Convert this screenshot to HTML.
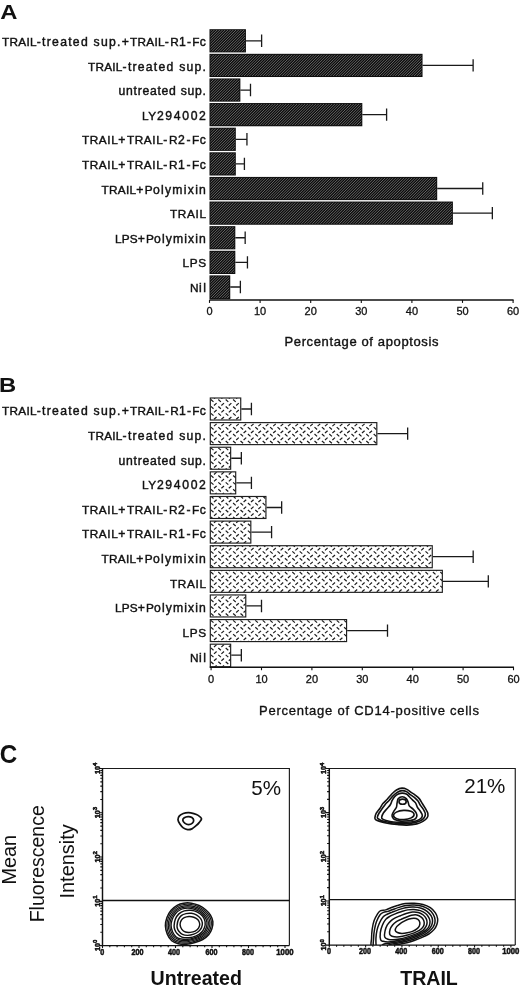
<!DOCTYPE html>
<html lang="en"><head><meta charset="utf-8"><title>Figure</title>
<style>
html,body{margin:0;padding:0;background:#fff}
svg{display:block}
text{font-family:"Liberation Sans", sans-serif;fill:#111}
.pl{font-weight:bold}
.lb{font-size:12.2px;stroke:#111;stroke-width:.42px;letter-spacing:.9px}
.up{letter-spacing:-.1px;font-size:11.8px}
.tl{font-size:11px;stroke:#111;stroke-width:.3px}
.tt{font-size:13px;stroke:#111;stroke-width:.35px}
.eb{fill:none;stroke:#1a1a1a;stroke-width:1.3}
.ax{fill:none;stroke:#111;stroke-width:1.4}
.tk{stroke:#111;stroke-width:1.1}
.yl{font-size:20.8px}
.pc{font-size:20.6px}
.nm{font-size:21px;font-weight:bold}
.ct{font-size:8.2px;font-weight:bold;stroke:#111;stroke-width:.5px}
</style></head><body>
<svg width="520" height="995" viewBox="0 0 520 995">
<defs>
<pattern id="hB" width="37" height="69" patternUnits="userSpaceOnUse" x="211" y="422">
<rect width="37" height="69" fill="#fff"/>
<path d="M-4.4 -2.75l2.6 -2.3M-7.5 -1.75l2.6 2.3M3 -2.75l2.6 -2.3M-0.1 -1.75l2.6 2.3M10.4 -2.75l2.6 -2.3M7.3 -1.75l2.6 2.3M17.8 -2.75l2.6 -2.3M14.7 -1.75l2.6 2.3M25.2 -2.75l2.6 -2.3M22.1 -1.75l2.6 2.3M32.6 -2.75l2.6 -2.3M29.5 -1.75l2.6 2.3M40 -2.75l2.6 -2.3M36.9 -1.75l2.6 2.3M-4.4 4.15l2.6 -2.3M-7.5 5.15l2.6 2.3M3 4.15l2.6 -2.3M-0.1 5.15l2.6 2.3M10.4 4.15l2.6 -2.3M7.3 5.15l2.6 2.3M17.8 4.15l2.6 -2.3M14.7 5.15l2.6 2.3M25.2 4.15l2.6 -2.3M22.1 5.15l2.6 2.3M32.6 4.15l2.6 -2.3M29.5 5.15l2.6 2.3M40 4.15l2.6 -2.3M36.9 5.15l2.6 2.3M-4.4 11.05l2.6 -2.3M-7.5 12.05l2.6 2.3M3 11.05l2.6 -2.3M-0.1 12.05l2.6 2.3M10.4 11.05l2.6 -2.3M7.3 12.05l2.6 2.3M17.8 11.05l2.6 -2.3M14.7 12.05l2.6 2.3M25.2 11.05l2.6 -2.3M22.1 12.05l2.6 2.3M32.6 11.05l2.6 -2.3M29.5 12.05l2.6 2.3M40 11.05l2.6 -2.3M36.9 12.05l2.6 2.3M-4.4 17.95l2.6 -2.3M-7.5 18.95l2.6 2.3M3 17.95l2.6 -2.3M-0.1 18.95l2.6 2.3M10.4 17.95l2.6 -2.3M7.3 18.95l2.6 2.3M17.8 17.95l2.6 -2.3M14.7 18.95l2.6 2.3M25.2 17.95l2.6 -2.3M22.1 18.95l2.6 2.3M32.6 17.95l2.6 -2.3M29.5 18.95l2.6 2.3M40 17.95l2.6 -2.3M36.9 18.95l2.6 2.3M-4.4 24.85l2.6 -2.3M-7.5 25.85l2.6 2.3M3 24.85l2.6 -2.3M-0.1 25.85l2.6 2.3M10.4 24.85l2.6 -2.3M7.3 25.85l2.6 2.3M17.8 24.85l2.6 -2.3M14.7 25.85l2.6 2.3M25.2 24.85l2.6 -2.3M22.1 25.85l2.6 2.3M32.6 24.85l2.6 -2.3M29.5 25.85l2.6 2.3M40 24.85l2.6 -2.3M36.9 25.85l2.6 2.3M-4.4 31.75l2.6 -2.3M-7.5 32.75l2.6 2.3M3 31.75l2.6 -2.3M-0.1 32.75l2.6 2.3M10.4 31.75l2.6 -2.3M7.3 32.75l2.6 2.3M17.8 31.75l2.6 -2.3M14.7 32.75l2.6 2.3M25.2 31.75l2.6 -2.3M22.1 32.75l2.6 2.3M32.6 31.75l2.6 -2.3M29.5 32.75l2.6 2.3M40 31.75l2.6 -2.3M36.9 32.75l2.6 2.3M-4.4 38.65l2.6 -2.3M-7.5 39.65l2.6 2.3M3 38.65l2.6 -2.3M-0.1 39.65l2.6 2.3M10.4 38.65l2.6 -2.3M7.3 39.65l2.6 2.3M17.8 38.65l2.6 -2.3M14.7 39.65l2.6 2.3M25.2 38.65l2.6 -2.3M22.1 39.65l2.6 2.3M32.6 38.65l2.6 -2.3M29.5 39.65l2.6 2.3M40 38.65l2.6 -2.3M36.9 39.65l2.6 2.3M-4.4 45.55l2.6 -2.3M-7.5 46.55l2.6 2.3M3 45.55l2.6 -2.3M-0.1 46.55l2.6 2.3M10.4 45.55l2.6 -2.3M7.3 46.55l2.6 2.3M17.8 45.55l2.6 -2.3M14.7 46.55l2.6 2.3M25.2 45.55l2.6 -2.3M22.1 46.55l2.6 2.3M32.6 45.55l2.6 -2.3M29.5 46.55l2.6 2.3M40 45.55l2.6 -2.3M36.9 46.55l2.6 2.3M-4.4 52.45l2.6 -2.3M-7.5 53.45l2.6 2.3M3 52.45l2.6 -2.3M-0.1 53.45l2.6 2.3M10.4 52.45l2.6 -2.3M7.3 53.45l2.6 2.3M17.8 52.45l2.6 -2.3M14.7 53.45l2.6 2.3M25.2 52.45l2.6 -2.3M22.1 53.45l2.6 2.3M32.6 52.45l2.6 -2.3M29.5 53.45l2.6 2.3M40 52.45l2.6 -2.3M36.9 53.45l2.6 2.3M-4.4 59.35l2.6 -2.3M-7.5 60.35l2.6 2.3M3 59.35l2.6 -2.3M-0.1 60.35l2.6 2.3M10.4 59.35l2.6 -2.3M7.3 60.35l2.6 2.3M17.8 59.35l2.6 -2.3M14.7 60.35l2.6 2.3M25.2 59.35l2.6 -2.3M22.1 60.35l2.6 2.3M32.6 59.35l2.6 -2.3M29.5 60.35l2.6 2.3M40 59.35l2.6 -2.3M36.9 60.35l2.6 2.3M-4.4 66.25l2.6 -2.3M-7.5 67.25l2.6 2.3M3 66.25l2.6 -2.3M-0.1 67.25l2.6 2.3M10.4 66.25l2.6 -2.3M7.3 67.25l2.6 2.3M17.8 66.25l2.6 -2.3M14.7 67.25l2.6 2.3M25.2 66.25l2.6 -2.3M22.1 67.25l2.6 2.3M32.6 66.25l2.6 -2.3M29.5 67.25l2.6 2.3M40 66.25l2.6 -2.3M36.9 67.25l2.6 2.3M-4.4 73.15l2.6 -2.3M-7.5 74.15l2.6 2.3M3 73.15l2.6 -2.3M-0.1 74.15l2.6 2.3M10.4 73.15l2.6 -2.3M7.3 74.15l2.6 2.3M17.8 73.15l2.6 -2.3M14.7 74.15l2.6 2.3M25.2 73.15l2.6 -2.3M22.1 74.15l2.6 2.3M32.6 73.15l2.6 -2.3M29.5 74.15l2.6 2.3M40 73.15l2.6 -2.3M36.9 74.15l2.6 2.3" stroke="#1c1c1c" stroke-width="1.22" fill="none"/>
</pattern>
<clipPath id="clipc2"><rect x="320" y="760" width="200" height="185.1"/></clipPath>
</defs>
<rect width="520" height="995" fill="#fff"/>
<text x="0.3" y="18.5" class="pl" font-size="20.3" textLength="17.2" lengthAdjust="spacingAndGlyphs">A</text>
<path d="M245.93 40.8H261.62M261.62 34.6V47" class="eb"/>
<rect x="209.5" y="29.2" width="36.43" height="23.2" fill="#0c0c0c"/>
<text x="2" y="45.9" class="lb" textLength="204.8" lengthAdjust="spacing"><tspan class="up">TRAIL</tspan>-treated sup.+<tspan class="up">TRAIL</tspan>-<tspan class="up">R</tspan>1-<tspan class="up">F</tspan>c</text>
<path d="M422.53 65.42H473.13M473.13 59.22V71.62" class="eb"/>
<rect x="209.5" y="53.82" width="213.03" height="23.2" fill="#0c0c0c"/>
<text x="88" y="70.52" class="lb" textLength="118.8" lengthAdjust="spacing"><tspan class="up">TRAIL</tspan>-treated sup.</text>
<path d="M240.37 90.04H250.49M250.49 83.84V96.24" class="eb"/>
<rect x="209.5" y="78.44" width="30.87" height="23.2" fill="#0c0c0c"/>
<text x="118.5" y="95.14" class="lb" textLength="88.3" lengthAdjust="spacing">untreated sup.</text>
<path d="M362.31 114.66H386.6M386.6 108.46V120.86" class="eb"/>
<rect x="209.5" y="103.06" width="152.81" height="23.2" fill="#0c0c0c"/>
<text x="142" y="119.76" class="lb" textLength="64.8" lengthAdjust="spacing"><tspan class="up">LY</tspan>294002</text>
<path d="M235.81 139.28H246.94M246.94 133.08V145.48" class="eb"/>
<rect x="209.5" y="127.68" width="26.31" height="23.2" fill="#0c0c0c"/>
<text x="82" y="144.38" class="lb" textLength="124.8" lengthAdjust="spacing"><tspan class="up">TRAIL</tspan>+<tspan class="up">TRAIL</tspan>-<tspan class="up">R</tspan>2-<tspan class="up">F</tspan>c</text>
<path d="M235.81 163.9H244.41M244.41 157.7V170.1" class="eb"/>
<rect x="209.5" y="152.3" width="26.31" height="23.2" fill="#0c0c0c"/>
<text x="82" y="169" class="lb" textLength="124.8" lengthAdjust="spacing"><tspan class="up">TRAIL</tspan>+<tspan class="up">TRAIL</tspan>-<tspan class="up">R</tspan>1-<tspan class="up">F</tspan>c</text>
<path d="M437.2 188.52H482.74M482.74 182.32V194.72" class="eb"/>
<rect x="209.5" y="176.92" width="227.7" height="23.2" fill="#0c0c0c"/>
<text x="101.5" y="193.62" class="lb" textLength="105.3" lengthAdjust="spacing"><tspan class="up">TRAIL</tspan>+<tspan class="up">P</tspan>olymixin</text>
<path d="M452.89 213.14H492.35M492.35 206.94V219.34" class="eb"/>
<rect x="209.5" y="201.54" width="243.39" height="23.2" fill="#0c0c0c"/>
<text x="170" y="218.24" class="lb" textLength="36" lengthAdjust="spacing"><tspan class="up">TRAIL</tspan></text>
<path d="M235.31 237.76H245.17M245.17 231.56V243.96" class="eb"/>
<rect x="209.5" y="226.16" width="25.81" height="23.2" fill="#0c0c0c"/>
<text x="115" y="242.86" class="lb" textLength="91.8" lengthAdjust="spacing"><tspan class="up">LPS</tspan>+<tspan class="up">P</tspan>olymixin</text>
<path d="M235.31 262.38H247.45M247.45 256.18V268.58" class="eb"/>
<rect x="209.5" y="250.78" width="25.81" height="23.2" fill="#0c0c0c"/>
<text x="182.5" y="267.48" class="lb" textLength="23.5" lengthAdjust="spacing"><tspan class="up">LPS</tspan></text>
<path d="M230.25 287H240.37M240.37 280.8V293.2" class="eb"/>
<rect x="209.5" y="275.4" width="20.75" height="23.8" fill="#0c0c0c"/>
<text x="190" y="292.1" class="lb" textLength="16.8" lengthAdjust="spacing"><tspan class="up">N</tspan>il</text>
<path d="M209.5 300.02H513.6" class="ax"/>
<path d="M209.5 300.02V302.92" class="tk"/>
<text x="209.5" y="315.32" class="tl" text-anchor="middle">0</text>
<path d="M260.1 300.02V302.92" class="tk"/>
<text x="260.1" y="315.32" class="tl" text-anchor="middle">10</text>
<path d="M310.7 300.02V302.92" class="tk"/>
<text x="310.7" y="315.32" class="tl" text-anchor="middle">20</text>
<path d="M361.3 300.02V302.92" class="tk"/>
<text x="361.3" y="315.32" class="tl" text-anchor="middle">30</text>
<path d="M411.9 300.02V302.92" class="tk"/>
<text x="411.9" y="315.32" class="tl" text-anchor="middle">40</text>
<path d="M462.5 300.02V302.92" class="tk"/>
<text x="462.5" y="315.32" class="tl" text-anchor="middle">50</text>
<path d="M513.1 300.02V302.92" class="tk"/>
<text x="513.1" y="315.32" class="tl" text-anchor="middle">60</text>
<text x="284.5" y="345.92" class="tt" style="stroke-width:.38px" textLength="154" lengthAdjust="spacing">Percentage of apoptosis</text>
<clipPath id="clipA"><rect x="210.4" y="30.1" width="34.63" height="21.4"/><rect x="210.4" y="54.72" width="211.23" height="21.4"/><rect x="210.4" y="79.34" width="29.07" height="21.4"/><rect x="210.4" y="103.96" width="151.01" height="21.4"/><rect x="210.4" y="128.58" width="24.51" height="21.4"/><rect x="210.4" y="153.2" width="24.51" height="21.4"/><rect x="210.4" y="177.82" width="225.9" height="21.4"/><rect x="210.4" y="202.44" width="241.59" height="21.4"/><rect x="210.4" y="227.06" width="24.01" height="21.4"/><rect x="210.4" y="251.68" width="24.01" height="21.4"/><rect x="210.4" y="276.3" width="18.95" height="22"/></clipPath>
<path d="M-62 301l272 -272M-59.3 301l272 -272M-56.6 301l272 -272M-53.9 301l272 -272M-51.2 301l272 -272M-48.5 301l272 -272M-45.8 301l272 -272M-43.1 301l272 -272M-40.4 301l272 -272M-37.7 301l272 -272M-35 301l272 -272M-32.3 301l272 -272M-29.6 301l272 -272M-26.9 301l272 -272M-24.2 301l272 -272M-21.5 301l272 -272M-18.8 301l272 -272M-16.1 301l272 -272M-13.4 301l272 -272M-10.7 301l272 -272M-8 301l272 -272M-5.3 301l272 -272M-2.6 301l272 -272M0.1 301l272 -272M2.8 301l272 -272M5.5 301l272 -272M8.2 301l272 -272M10.9 301l272 -272M13.6 301l272 -272M16.3 301l272 -272M19 301l272 -272M21.7 301l272 -272M24.4 301l272 -272M27.1 301l272 -272M29.8 301l272 -272M32.5 301l272 -272M35.2 301l272 -272M37.9 301l272 -272M40.6 301l272 -272M43.3 301l272 -272M46 301l272 -272M48.7 301l272 -272M51.4 301l272 -272M54.1 301l272 -272M56.8 301l272 -272M59.5 301l272 -272M62.2 301l272 -272M64.9 301l272 -272M67.6 301l272 -272M70.3 301l272 -272M73 301l272 -272M75.7 301l272 -272M78.4 301l272 -272M81.1 301l272 -272M83.8 301l272 -272M86.5 301l272 -272M89.2 301l272 -272M91.9 301l272 -272M94.6 301l272 -272M97.3 301l272 -272M100 301l272 -272M102.7 301l272 -272M105.4 301l272 -272M108.1 301l272 -272M110.8 301l272 -272M113.5 301l272 -272M116.2 301l272 -272M118.9 301l272 -272M121.6 301l272 -272M124.3 301l272 -272M127 301l272 -272M129.7 301l272 -272M132.4 301l272 -272M135.1 301l272 -272M137.8 301l272 -272M140.5 301l272 -272M143.2 301l272 -272M145.9 301l272 -272M148.6 301l272 -272M151.3 301l272 -272M154 301l272 -272M156.7 301l272 -272M159.4 301l272 -272M162.1 301l272 -272M164.8 301l272 -272M167.5 301l272 -272M170.2 301l272 -272M172.9 301l272 -272M175.6 301l272 -272M178.3 301l272 -272M181 301l272 -272M183.7 301l272 -272M186.4 301l272 -272M189.1 301l272 -272M191.8 301l272 -272M194.5 301l272 -272M197.2 301l272 -272M199.9 301l272 -272M202.6 301l272 -272M205.3 301l272 -272M208 301l272 -272M210.7 301l272 -272M213.4 301l272 -272M216.1 301l272 -272M218.8 301l272 -272M221.5 301l272 -272M224.2 301l272 -272M226.9 301l272 -272M229.6 301l272 -272M232.3 301l272 -272M235 301l272 -272M237.7 301l272 -272M240.4 301l272 -272M243.1 301l272 -272M245.8 301l272 -272M248.5 301l272 -272M251.2 301l272 -272M253.9 301l272 -272M256.6 301l272 -272M259.3 301l272 -272M262 301l272 -272M264.7 301l272 -272M267.4 301l272 -272M270.1 301l272 -272M272.8 301l272 -272M275.5 301l272 -272M278.2 301l272 -272M280.9 301l272 -272M283.6 301l272 -272M286.3 301l272 -272M289 301l272 -272M291.7 301l272 -272M294.4 301l272 -272M297.1 301l272 -272M299.8 301l272 -272M302.5 301l272 -272M305.2 301l272 -272M307.9 301l272 -272M310.6 301l272 -272M313.3 301l272 -272M316 301l272 -272M318.7 301l272 -272M321.4 301l272 -272M324.1 301l272 -272M326.8 301l272 -272M329.5 301l272 -272M332.2 301l272 -272M334.9 301l272 -272M337.6 301l272 -272M340.3 301l272 -272M343 301l272 -272M345.7 301l272 -272M348.4 301l272 -272M351.1 301l272 -272M353.8 301l272 -272M356.5 301l272 -272M359.2 301l272 -272M361.9 301l272 -272M364.6 301l272 -272M367.3 301l272 -272M370 301l272 -272M372.7 301l272 -272M375.4 301l272 -272M378.1 301l272 -272M380.8 301l272 -272M383.5 301l272 -272M386.2 301l272 -272M388.9 301l272 -272M391.6 301l272 -272M394.3 301l272 -272M397 301l272 -272M399.7 301l272 -272M402.4 301l272 -272M405.1 301l272 -272M407.8 301l272 -272M410.5 301l272 -272M413.2 301l272 -272M415.9 301l272 -272M418.6 301l272 -272M421.3 301l272 -272M424 301l272 -272M426.7 301l272 -272M429.4 301l272 -272M432.1 301l272 -272M434.8 301l272 -272M437.5 301l272 -272M440.2 301l272 -272M442.9 301l272 -272M445.6 301l272 -272M448.3 301l272 -272M451 301l272 -272M453.7 301l272 -272M456.4 301l272 -272M459.1 301l272 -272" clip-path="url(#clipA)" stroke="#8c8c8c" stroke-width="0.7" fill="none"/>
<text x="-1.1" y="392.4" class="pl" font-size="20.3" textLength="17.2" lengthAdjust="spacingAndGlyphs">B</text>
<path d="M241.34 409H251.42M251.42 402.8V415.2" class="eb"/>
<rect x="210.3" y="398" width="30.44" height="22" fill="url(#hB)" stroke="#1e1e1e" stroke-width="1.15"/>
<text x="2" y="415.3" class="lb" textLength="204.8" lengthAdjust="spacing"><tspan class="up">TRAIL</tspan>-treated sup.+<tspan class="up">TRAIL</tspan>-<tspan class="up">R</tspan>1-<tspan class="up">F</tspan>c</text>
<path d="M377.42 433.62H407.66M407.66 427.42V439.82" class="eb"/>
<rect x="210.3" y="422.62" width="166.52" height="22" fill="url(#hB)" stroke="#1e1e1e" stroke-width="1.15"/>
<text x="88" y="439.92" class="lb" textLength="118.8" lengthAdjust="spacing"><tspan class="up">TRAIL</tspan>-treated sup.</text>
<path d="M231.26 458.24H241.34M241.34 452.04V464.44" class="eb"/>
<rect x="210.3" y="447.24" width="20.36" height="22" fill="url(#hB)" stroke="#1e1e1e" stroke-width="1.15"/>
<text x="118.5" y="464.54" class="lb" textLength="88.3" lengthAdjust="spacing">untreated sup.</text>
<path d="M236.3 482.86H251.42M251.42 476.66V489.06" class="eb"/>
<rect x="210.3" y="471.86" width="25.4" height="22" fill="url(#hB)" stroke="#1e1e1e" stroke-width="1.15"/>
<text x="142" y="489.16" class="lb" textLength="64.8" lengthAdjust="spacing"><tspan class="up">LY</tspan>294002</text>
<path d="M266.54 507.48H281.66M281.66 501.28V513.68" class="eb"/>
<rect x="210.3" y="496.48" width="55.64" height="22" fill="url(#hB)" stroke="#1e1e1e" stroke-width="1.15"/>
<text x="82" y="513.78" class="lb" textLength="124.8" lengthAdjust="spacing"><tspan class="up">TRAIL</tspan>+<tspan class="up">TRAIL</tspan>-<tspan class="up">R</tspan>2-<tspan class="up">F</tspan>c</text>
<path d="M251.42 532.1H271.58M271.58 525.9V538.3" class="eb"/>
<rect x="210.3" y="521.1" width="40.52" height="22" fill="url(#hB)" stroke="#1e1e1e" stroke-width="1.15"/>
<text x="82" y="538.4" class="lb" textLength="124.8" lengthAdjust="spacing"><tspan class="up">TRAIL</tspan>+<tspan class="up">TRAIL</tspan>-<tspan class="up">R</tspan>1-<tspan class="up">F</tspan>c</text>
<path d="M432.86 556.72H473.18M473.18 550.52V562.92" class="eb"/>
<rect x="210.3" y="545.72" width="221.96" height="22" fill="url(#hB)" stroke="#1e1e1e" stroke-width="1.15"/>
<text x="101.5" y="563.02" class="lb" textLength="105.3" lengthAdjust="spacing"><tspan class="up">TRAIL</tspan>+<tspan class="up">P</tspan>olymixin</text>
<path d="M442.94 581.34H488.3M488.3 575.14V587.54" class="eb"/>
<rect x="210.3" y="570.34" width="232.04" height="22" fill="url(#hB)" stroke="#1e1e1e" stroke-width="1.15"/>
<text x="170" y="587.64" class="lb" textLength="36" lengthAdjust="spacing"><tspan class="up">TRAIL</tspan></text>
<path d="M246.38 605.96H261.5M261.5 599.76V612.16" class="eb"/>
<rect x="210.3" y="594.96" width="35.48" height="22" fill="url(#hB)" stroke="#1e1e1e" stroke-width="1.15"/>
<text x="115" y="612.26" class="lb" textLength="91.8" lengthAdjust="spacing"><tspan class="up">LPS</tspan>+<tspan class="up">P</tspan>olymixin</text>
<path d="M347.18 630.58H387.5M387.5 624.38V636.78" class="eb"/>
<rect x="210.3" y="619.58" width="136.28" height="22" fill="url(#hB)" stroke="#1e1e1e" stroke-width="1.15"/>
<text x="182.5" y="636.88" class="lb" textLength="23.5" lengthAdjust="spacing"><tspan class="up">LPS</tspan></text>
<path d="M231.26 655.2H241.34M241.34 649V661.4" class="eb"/>
<rect x="210.3" y="644.2" width="20.36" height="22.6" fill="url(#hB)" stroke="#1e1e1e" stroke-width="1.15"/>
<text x="190" y="661.5" class="lb" textLength="16.8" lengthAdjust="spacing"><tspan class="up">N</tspan>il</text>
<path d="M209.7 667.32H514" class="ax"/>
<path d="M211.1 667.32V670.22" class="tk"/>
<text x="211.1" y="682.62" class="tl" text-anchor="middle">0</text>
<path d="M261.5 667.32V670.22" class="tk"/>
<text x="261.5" y="682.62" class="tl" text-anchor="middle">10</text>
<path d="M311.9 667.32V670.22" class="tk"/>
<text x="311.9" y="682.62" class="tl" text-anchor="middle">20</text>
<path d="M362.3 667.32V670.22" class="tk"/>
<text x="362.3" y="682.62" class="tl" text-anchor="middle">30</text>
<path d="M412.7 667.32V670.22" class="tk"/>
<text x="412.7" y="682.62" class="tl" text-anchor="middle">40</text>
<path d="M463.1 667.32V670.22" class="tk"/>
<text x="463.1" y="682.62" class="tl" text-anchor="middle">50</text>
<path d="M513.5 667.32V670.22" class="tk"/>
<text x="513.5" y="682.62" class="tl" text-anchor="middle">60</text>
<text x="259" y="715.02" class="tt" style="stroke-width:.33px" textLength="220" lengthAdjust="spacing">Percentage of CD14-positive cells</text>
<text x="-0.3" y="762.7" class="pl" font-size="26" textLength="17.5" lengthAdjust="spacingAndGlyphs">C</text>
<text transform="translate(16.4 884.6) rotate(-90)" class="yl" textLength="49.6" lengthAdjust="spacingAndGlyphs">Mean</text>
<text transform="translate(43.8 922.3) rotate(-90)" class="yl" textLength="117.1" lengthAdjust="spacingAndGlyphs">Fluorescence</text>
<text transform="translate(73.8 898.5) rotate(-90)" class="yl" textLength="74.2" lengthAdjust="spacingAndGlyphs">Intensity</text>
<path d="M102.5 768.5H289.38V945.6" fill="none" stroke="#1a1a1a" stroke-width="1.15"/>
<path d="M102.5 768V945.6H289.38" fill="none" stroke="#111" stroke-width="1.45"/>
<path d="M102.5 900.5H289.38" stroke="#111" stroke-width="1.3"/>
<path d="M102.5 945.6v2.3M109.8 945.6v1.7M117.1 945.6v1.7M124.4 945.6v1.7M131.7 945.6v1.7M139 945.6v2.3M146.3 945.6v1.7M153.6 945.6v1.7M160.9 945.6v1.7M168.2 945.6v1.7M175.5 945.6v2.3M182.8 945.6v1.7M190.1 945.6v1.7M197.4 945.6v1.7M204.7 945.6v1.7M212 945.6v2.3M219.3 945.6v1.7M226.6 945.6v1.7M233.9 945.6v1.7M241.2 945.6v1.7M248.5 945.6v2.3M255.8 945.6v1.7M263.1 945.6v1.7M270.4 945.6v1.7M277.7 945.6v1.7M285 945.6v2.3" stroke="#111" stroke-width="1.1"/>
<path d="M102.5 945.6h-3.4M102.5 932.27h-2.2M102.5 924.48h-2.2M102.5 918.94h-2.2M102.5 914.65h-2.2M102.5 911.15h-2.2M102.5 908.18h-2.2M102.5 905.62h-2.2M102.5 903.35h-2.2M102.5 901.33h-3.4M102.5 888h-2.2M102.5 880.2h-2.2M102.5 874.67h-2.2M102.5 870.38h-2.2M102.5 866.87h-2.2M102.5 863.91h-2.2M102.5 861.34h-2.2M102.5 859.08h-2.2M102.5 857.05h-3.4M102.5 843.72h-2.2M102.5 835.93h-2.2M102.5 830.39h-2.2M102.5 826.1h-2.2M102.5 822.6h-2.2M102.5 819.63h-2.2M102.5 817.07h-2.2M102.5 814.8h-2.2M102.5 812.77h-3.4M102.5 799.45h-2.2M102.5 791.65h-2.2M102.5 786.12h-2.2M102.5 781.83h-2.2M102.5 778.32h-2.2M102.5 775.36h-2.2M102.5 772.79h-2.2M102.5 770.53h-2.2M102.5 768.5h-3.4" stroke="#111" stroke-width="1.1"/>
<text x="100.2" y="955" class="ct" textLength="4" lengthAdjust="spacingAndGlyphs">0</text>
<text x="131.4" y="955" class="ct" textLength="12" lengthAdjust="spacingAndGlyphs">200</text>
<text x="167.9" y="955" class="ct" textLength="12" lengthAdjust="spacingAndGlyphs">400</text>
<text x="205.4" y="955" class="ct" textLength="12" lengthAdjust="spacingAndGlyphs">600</text>
<text x="241.9" y="955" class="ct" textLength="12" lengthAdjust="spacingAndGlyphs">800</text>
<text x="276.3" y="955" class="ct" textLength="17.2" lengthAdjust="spacingAndGlyphs">1000</text>
<text transform="translate(99.6 951) rotate(-90)" class="ct" style="font-size:6.6px" textLength="11.3" lengthAdjust="spacingAndGlyphs">10<tspan dy="-2.2" font-size="5.6">0</tspan></text>
<text transform="translate(99.6 906.73) rotate(-90)" class="ct" style="font-size:6.6px" textLength="11.3" lengthAdjust="spacingAndGlyphs">10<tspan dy="-2.2" font-size="5.6">1</tspan></text>
<text transform="translate(99.6 862.45) rotate(-90)" class="ct" style="font-size:6.6px" textLength="11.3" lengthAdjust="spacingAndGlyphs">10<tspan dy="-2.2" font-size="5.6">2</tspan></text>
<text transform="translate(99.6 818.17) rotate(-90)" class="ct" style="font-size:6.6px" textLength="11.3" lengthAdjust="spacingAndGlyphs">10<tspan dy="-2.2" font-size="5.6">3</tspan></text>
<text transform="translate(99.6 773.9) rotate(-90)" class="ct" style="font-size:6.6px" textLength="11.3" lengthAdjust="spacingAndGlyphs">10<tspan dy="-2.2" font-size="5.6">4</tspan></text>
<text x="251.2" y="795.2" class="pc">5%</text>
<text x="150.5" y="984.8" class="nm" textLength="91.5" lengthAdjust="spacingAndGlyphs">Untreated</text>
<path d="M177.98 819.71C177.9 818.35 178.54 816.91 179.42 815.87C180.3 814.82 181.75 813.99 183.27 813.46C184.79 812.93 186.79 812.66 188.56 812.69C190.32 812.72 192.24 813.21 193.85 813.65C195.45 814.1 196.89 814.54 198.17 815.38C199.46 816.23 201.38 817.55 201.54 818.75C201.7 819.95 200.1 821.39 199.13 822.6C198.17 823.8 196.97 824.92 195.77 825.96C194.57 827 193.29 828.24 191.92 828.85C190.56 829.46 189.04 829.78 187.6 829.62C186.15 829.46 184.55 828.81 183.27 827.88C181.99 826.96 180.79 825.4 179.9 824.04C179.02 822.68 178.06 821.07 177.98 819.71Z" fill="none" stroke="#111" stroke-width="1.75" stroke-linejoin="round"/>
<path d="M182.79 820.19C182.71 819.31 183.35 818.4 184.23 817.79C185.11 817.18 186.79 816.59 188.08 816.54C189.36 816.49 190.99 816.89 191.92 817.5C192.85 818.11 193.57 819.26 193.65 820.19C193.73 821.12 193.25 822.36 192.4 823.08C191.55 823.8 189.84 824.52 188.56 824.52C187.28 824.52 185.67 823.8 184.71 823.08C183.75 822.36 182.87 821.07 182.79 820.19Z" fill="none" stroke="#111" stroke-width="1.75" stroke-linejoin="round"/>
<path d="M165.39 925.81C165.33 923.03 165.99 920.05 166.94 917.46C167.9 914.88 169.43 912.33 171.12 910.31C172.8 908.28 174.99 906.49 177.08 905.3C179.16 904.11 181.25 903.51 183.63 903.15C186.02 902.8 188.8 902.76 191.39 903.15C193.97 903.55 196.75 904.45 199.14 905.54C201.52 906.63 203.81 908.12 205.69 909.71C207.58 911.3 209.27 913.09 210.46 915.08C211.65 917.06 212.61 919.35 212.85 921.63C213.09 923.92 212.59 926.6 211.89 928.79C211.2 930.97 210.2 932.96 208.67 934.75C207.14 936.54 205 938.23 202.71 939.52C200.43 940.81 197.64 941.71 194.96 942.5C192.28 943.3 189.4 944.09 186.62 944.29C183.83 944.49 180.75 944.29 178.27 943.69C175.79 943.1 173.54 942.3 171.71 940.71C169.88 939.12 168.35 936.64 167.3 934.15C166.25 931.67 165.45 928.59 165.39 925.81Z" fill="none" stroke="#111" stroke-width="1.5" stroke-linejoin="round"/>
<path d="M166.84 925.72C166.79 923.11 167.4 920.31 168.3 917.89C169.19 915.47 170.63 913.08 172.21 911.18C173.79 909.28 175.84 907.6 177.8 906.48C179.76 905.36 181.72 904.81 183.95 904.47C186.19 904.13 188.8 904.1 191.22 904.47C193.65 904.84 196.26 905.68 198.49 906.71C200.73 907.73 202.87 909.13 204.64 910.62C206.41 912.11 208 913.79 209.12 915.65C210.24 917.52 211.13 919.66 211.35 921.8C211.58 923.95 211.11 926.46 210.46 928.52C209.81 930.57 208.87 932.43 207.44 934.11C206 935.78 203.99 937.37 201.85 938.58C199.7 939.79 197.09 940.63 194.58 941.38C192.06 942.12 189.36 942.87 186.75 943.05C184.14 943.24 181.25 943.05 178.92 942.5C176.59 941.94 174.48 941.19 172.77 939.7C171.05 938.21 169.62 935.88 168.63 933.55C167.64 931.22 166.9 928.33 166.84 925.72Z" fill="none" stroke="#111" stroke-width="1.2" stroke-linejoin="round"/>
<path d="M168.29 925.63C168.24 923.19 168.81 920.58 169.65 918.32C170.48 916.06 171.82 913.83 173.3 912.05C174.78 910.28 176.7 908.71 178.53 907.67C180.35 906.62 182.18 906.1 184.27 905.79C186.36 905.47 188.8 905.44 191.06 905.79C193.32 906.13 195.76 906.92 197.85 907.87C199.94 908.83 201.94 910.14 203.59 911.53C205.25 912.92 206.73 914.49 207.77 916.23C208.82 917.97 209.65 919.97 209.86 921.97C210.07 923.98 209.63 926.33 209.02 928.24C208.42 930.16 207.55 931.9 206.2 933.46C204.86 935.03 202.98 936.51 200.98 937.64C198.98 938.77 196.54 939.56 194.19 940.25C191.84 940.95 189.32 941.65 186.88 941.82C184.44 941.99 181.75 941.82 179.57 941.3C177.39 940.78 175.43 940.08 173.83 938.69C172.22 937.29 170.88 935.12 169.96 932.94C169.04 930.77 168.34 928.07 168.29 925.63Z" fill="none" stroke="#111" stroke-width="1.2" stroke-linejoin="round"/>
<path d="M169.74 925.54C169.69 923.28 170.22 920.85 171 918.75C171.78 916.65 173.02 914.57 174.4 912.92C175.77 911.27 177.55 909.82 179.25 908.85C180.95 907.88 182.65 907.39 184.59 907.1C186.53 906.81 188.79 906.78 190.9 907.1C193 907.42 195.26 908.15 197.21 909.04C199.15 909.93 201.01 911.15 202.54 912.44C204.08 913.73 205.46 915.19 206.43 916.81C207.4 918.42 208.17 920.28 208.37 922.14C208.56 924.01 208.16 926.19 207.59 927.97C207.02 929.75 206.22 931.37 204.97 932.82C203.72 934.28 201.98 935.65 200.12 936.7C198.26 937.75 195.99 938.48 193.81 939.13C191.63 939.78 189.28 940.42 187.01 940.59C184.75 940.75 182.24 940.59 180.22 940.1C178.2 939.61 176.37 938.97 174.88 937.67C173.39 936.38 172.15 934.36 171.29 932.34C170.43 930.31 169.79 927.81 169.74 925.54Z" fill="none" stroke="#111" stroke-width="1.2" stroke-linejoin="round"/>
<path d="M171.12 925.46C171.07 923.36 171.57 921.11 172.29 919.16C173.01 917.21 174.16 915.29 175.44 913.75C176.71 912.22 178.36 910.87 179.94 909.97C181.52 909.07 183.09 908.62 184.89 908.35C186.69 908.08 188.79 908.05 190.74 908.35C192.69 908.65 194.79 909.33 196.59 910.15C198.39 910.98 200.12 912.1 201.54 913.3C202.97 914.51 204.25 915.86 205.15 917.36C206.05 918.86 206.77 920.58 206.95 922.31C207.13 924.03 206.75 926.06 206.23 927.71C205.7 929.36 204.95 930.86 203.8 932.21C202.64 933.56 201.02 934.83 199.29 935.81C197.57 936.79 195.47 937.46 193.44 938.06C191.42 938.66 189.24 939.26 187.14 939.41C185.04 939.56 182.72 939.41 180.84 938.96C178.96 938.51 177.27 937.91 175.89 936.71C174.51 935.51 173.35 933.63 172.56 931.76C171.76 929.88 171.16 927.56 171.12 925.46Z" fill="none" stroke="#111" stroke-width="1.3" stroke-linejoin="round"/>
<path d="M174.1 925.81C174.2 924.12 174.49 921.24 175.29 919.25C176.08 917.26 177.38 915.28 178.87 913.88C180.36 912.49 182.24 911.5 184.23 910.9C186.22 910.31 188.6 910.11 190.79 910.31C192.97 910.51 195.36 911.1 197.35 912.1C199.33 913.09 201.42 914.68 202.71 916.27C204 917.86 204.8 919.75 205.1 921.63C205.39 923.52 205.1 925.81 204.5 927.6C203.9 929.39 202.91 930.97 201.52 932.37C200.13 933.76 198.24 935.05 196.15 935.94C194.07 936.84 191.39 937.53 189 937.73C186.62 937.93 183.83 937.83 181.85 937.14C179.86 936.44 178.27 934.85 177.08 933.56C175.88 932.27 175.19 930.68 174.69 929.39C174.2 928.09 174 927.5 174.1 925.81Z" fill="none" stroke="#111" stroke-width="1.45" stroke-linejoin="round"/>
<path d="M177.08 925.21C177.24 923.82 177.57 921.44 178.27 919.85C178.96 918.26 179.96 916.71 181.25 915.67C182.54 914.64 184.33 914.04 186.02 913.65C187.71 913.25 189.6 913.05 191.39 913.29C193.17 913.53 195.2 914.18 196.75 915.08C198.3 915.97 199.75 917.36 200.69 918.65C201.62 919.95 202.22 921.34 202.35 922.83C202.49 924.32 202.16 926.15 201.52 927.6C200.88 929.05 199.83 930.44 198.54 931.53C197.25 932.62 195.56 933.52 193.77 934.15C191.98 934.79 189.7 935.31 187.81 935.35C185.92 935.39 183.93 935.09 182.44 934.39C180.95 933.7 179.72 932.21 178.87 931.17C178.01 930.14 177.61 929.19 177.32 928.19C177.02 927.2 176.92 926.6 177.08 925.21Z" fill="none" stroke="#111" stroke-width="1.45" stroke-linejoin="round"/>
<path d="M180.06 924.62C179.96 923.13 180.55 921.6 181.25 920.44C181.95 919.29 182.94 918.36 184.23 917.7C185.52 917.04 187.41 916.59 189 916.51C190.59 916.43 192.28 916.67 193.77 917.22C195.26 917.78 196.95 918.71 197.94 919.85C198.94 920.98 199.63 922.63 199.73 924.02C199.83 925.41 199.29 927 198.54 928.19C197.78 929.39 196.59 930.48 195.2 931.17C193.81 931.87 191.82 932.23 190.19 932.37C188.56 932.5 186.81 932.5 185.42 932.01C184.03 931.51 182.74 930.62 181.85 929.39C180.95 928.15 180.16 926.11 180.06 924.62Z" fill="none" stroke="#111" stroke-width="1.45" stroke-linejoin="round"/>
<path d="M329.3 768.5H515.26V945.1" fill="none" stroke="#1a1a1a" stroke-width="1.15"/>
<path d="M329.3 768V945.1H515.26" fill="none" stroke="#111" stroke-width="1.45"/>
<path d="M329.3 899.6H515.26" stroke="#111" stroke-width="1.3"/>
<path d="M329.3 945.1v2.3M336.56 945.1v1.7M343.83 945.1v1.7M351.09 945.1v1.7M358.36 945.1v1.7M365.62 945.1v2.3M372.88 945.1v1.7M380.15 945.1v1.7M387.41 945.1v1.7M394.68 945.1v1.7M401.94 945.1v2.3M409.2 945.1v1.7M416.47 945.1v1.7M423.73 945.1v1.7M431 945.1v1.7M438.26 945.1v2.3M445.52 945.1v1.7M452.79 945.1v1.7M460.05 945.1v1.7M467.32 945.1v1.7M474.58 945.1v2.3M481.84 945.1v1.7M489.11 945.1v1.7M496.37 945.1v1.7M503.64 945.1v1.7M510.9 945.1v2.3" stroke="#111" stroke-width="1.1"/>
<path d="M329.3 945.1h-3.4M329.3 931.81h-2.2M329.3 924.04h-2.2M329.3 918.52h-2.2M329.3 914.24h-2.2M329.3 910.74h-2.2M329.3 907.79h-2.2M329.3 905.23h-2.2M329.3 902.97h-2.2M329.3 900.95h-3.4M329.3 887.66h-2.2M329.3 879.89h-2.2M329.3 874.37h-2.2M329.3 870.09h-2.2M329.3 866.59h-2.2M329.3 863.64h-2.2M329.3 861.08h-2.2M329.3 858.82h-2.2M329.3 856.8h-3.4M329.3 843.51h-2.2M329.3 835.74h-2.2M329.3 830.22h-2.2M329.3 825.94h-2.2M329.3 822.44h-2.2M329.3 819.49h-2.2M329.3 816.93h-2.2M329.3 814.67h-2.2M329.3 812.65h-3.4M329.3 799.36h-2.2M329.3 791.59h-2.2M329.3 786.07h-2.2M329.3 781.79h-2.2M329.3 778.29h-2.2M329.3 775.34h-2.2M329.3 772.78h-2.2M329.3 770.52h-2.2M329.3 768.5h-3.4" stroke="#111" stroke-width="1.1"/>
<text x="327" y="954.1" class="ct" textLength="4" lengthAdjust="spacingAndGlyphs">0</text>
<text x="359.02" y="954.1" class="ct" textLength="12" lengthAdjust="spacingAndGlyphs">200</text>
<text x="395.34" y="954.1" class="ct" textLength="12" lengthAdjust="spacingAndGlyphs">400</text>
<text x="431.66" y="954.1" class="ct" textLength="12" lengthAdjust="spacingAndGlyphs">600</text>
<text x="467.98" y="954.1" class="ct" textLength="12" lengthAdjust="spacingAndGlyphs">800</text>
<text x="502.2" y="954.1" class="ct" textLength="17.2" lengthAdjust="spacingAndGlyphs">1000</text>
<text transform="translate(326.4 950.5) rotate(-90)" class="ct" style="font-size:6.6px" textLength="11.3" lengthAdjust="spacingAndGlyphs">10<tspan dy="-2.2" font-size="5.6">0</tspan></text>
<text transform="translate(326.4 906.35) rotate(-90)" class="ct" style="font-size:6.6px" textLength="11.3" lengthAdjust="spacingAndGlyphs">10<tspan dy="-2.2" font-size="5.6">1</tspan></text>
<text transform="translate(326.4 862.2) rotate(-90)" class="ct" style="font-size:6.6px" textLength="11.3" lengthAdjust="spacingAndGlyphs">10<tspan dy="-2.2" font-size="5.6">2</tspan></text>
<text transform="translate(326.4 818.05) rotate(-90)" class="ct" style="font-size:6.6px" textLength="11.3" lengthAdjust="spacingAndGlyphs">10<tspan dy="-2.2" font-size="5.6">3</tspan></text>
<text transform="translate(326.4 773.9) rotate(-90)" class="ct" style="font-size:6.6px" textLength="11.3" lengthAdjust="spacingAndGlyphs">10<tspan dy="-2.2" font-size="5.6">4</tspan></text>
<text x="464.2" y="792.7" class="pc">21%</text>
<text x="400.2" y="984.8" class="nm" textLength="57.6" lengthAdjust="spacingAndGlyphs">TRAIL</text>
<path d="M374.92 817.69C375.03 816.67 375.33 814.92 376.15 813.38C376.97 811.85 378.72 810.1 379.85 808.46C380.97 806.82 381.69 805.08 382.92 803.54C384.15 802 385.79 800.77 387.23 799.23C388.67 797.69 390 795.85 391.54 794.31C393.08 792.77 394.72 791.03 396.46 790C398.21 788.97 400.26 788.26 402 788.15C403.74 788.05 405.38 788.67 406.92 789.38C408.46 790.1 409.9 791.54 411.23 792.46C412.56 793.38 413.59 793.9 414.92 794.92C416.26 795.95 418 797.18 419.23 798.62C420.46 800.05 421.28 801.9 422.31 803.54C423.33 805.18 424.46 806.82 425.38 808.46C426.31 810.1 427.54 811.85 427.85 813.38C428.15 814.92 428.05 816.36 427.23 817.69C426.41 819.03 424.67 820.36 422.92 821.38C421.18 822.41 419.44 823.23 416.77 823.85C414.1 824.46 410.21 824.97 406.92 825.08C403.64 825.18 400.36 824.77 397.08 824.46C393.79 824.15 390.1 823.74 387.23 823.23C384.36 822.72 381.79 822 379.85 821.38C377.9 820.77 376.36 820.15 375.54 819.54C374.72 818.92 374.82 818.72 374.92 817.69Z" fill="none" stroke="#111" stroke-width="1.6" stroke-linejoin="round"/>
<path d="M377.38 817.08C377.59 816.09 378.41 814.21 379.23 812.77C380.05 811.33 381.28 809.9 382.31 808.46C383.33 807.03 384.26 805.49 385.38 804.15C386.51 802.82 387.85 801.79 389.08 800.46C390.31 799.13 391.44 797.49 392.77 796.15C394.1 794.82 395.54 793.38 397.08 792.46C398.62 791.54 400.46 790.76 402 790.62C403.54 790.47 404.97 790.98 406.31 791.6C407.64 792.22 408.67 793.34 410 794.31C411.33 795.27 412.97 796.26 414.31 797.38C415.64 798.51 416.97 799.74 418 801.08C419.03 802.41 419.54 803.95 420.46 805.38C421.38 806.82 422.72 808.26 423.54 809.69C424.36 811.13 425.28 812.67 425.38 814C425.49 815.33 424.97 816.56 424.15 817.69C423.33 818.82 422.1 819.95 420.46 820.77C418.82 821.59 416.77 822.14 414.31 822.62C411.85 823.09 408.77 823.5 405.69 823.6C402.62 823.7 398.92 823.5 395.85 823.23C392.77 822.96 389.69 822.47 387.23 822C384.77 821.53 382.62 820.95 381.08 820.4C379.54 819.85 378.62 819.23 378 818.68C377.38 818.12 377.18 818.06 377.38 817.08Z" fill="none" stroke="#111" stroke-width="1.6" stroke-linejoin="round"/>
<path d="M381.69 817.08C381.9 816.05 382.62 814.21 383.54 812.77C384.46 811.33 386.1 809.79 387.23 808.46C388.36 807.13 389.49 806.1 390.31 804.77C391.13 803.44 391.44 801.79 392.15 800.46C392.87 799.13 393.59 797.84 394.62 796.77C395.64 795.7 397.04 794.68 398.31 794.06C399.58 793.45 400.91 793.08 402.25 793.08C403.58 793.08 405.12 793.45 406.31 794.06C407.5 794.68 408.36 795.81 409.38 796.77C410.41 797.73 411.44 798.82 412.46 799.85C413.49 800.87 414.72 801.69 415.54 802.92C416.36 804.15 416.56 805.79 417.38 807.23C418.21 808.67 419.64 810.21 420.46 811.54C421.28 812.87 422.21 814.1 422.31 815.23C422.41 816.36 422 817.38 421.08 818.31C420.15 819.23 418.51 820.15 416.77 820.77C415.03 821.38 413.08 821.73 410.62 822C408.15 822.27 404.87 822.37 402 822.37C399.13 822.37 396.05 822.33 393.38 822C390.72 821.67 387.85 820.91 386 820.4C384.15 819.89 383.03 819.48 382.31 818.92C381.59 818.37 381.49 818.1 381.69 817.08Z" fill="none" stroke="#111" stroke-width="1.6" stroke-linejoin="round"/>
<path d="M392.15 814.62C392.42 813.59 393.28 812.15 394 810.92C394.72 809.69 395.95 808.56 396.46 807.23C396.97 805.9 396.77 804.36 397.08 802.92C397.38 801.49 397.45 799.64 398.31 798.62C399.17 797.59 400.91 796.77 402.25 796.77C403.58 796.77 405.32 797.69 406.31 798.62C407.29 799.54 407.64 801.08 408.15 802.31C408.67 803.54 408.56 804.87 409.38 806C410.21 807.13 411.95 807.95 413.08 809.08C414.21 810.21 415.54 811.54 416.15 812.77C416.77 814 417.08 815.33 416.77 816.46C416.46 817.59 415.74 818.82 414.31 819.54C412.87 820.26 410.41 820.5 408.15 820.77C405.9 821.04 403.03 821.34 400.77 821.14C398.51 820.93 396.01 820.22 394.62 819.54C393.22 818.86 392.81 817.9 392.4 817.08C391.99 816.26 391.89 815.64 392.15 814.62Z" fill="none" stroke="#111" stroke-width="1.6" stroke-linejoin="round"/>
<ellipse cx="402.6" cy="801.7" rx="3.6" ry="2.6" fill="none" stroke="#111" stroke-width="1.6"/>
<ellipse cx="403.8" cy="815" rx="10.3" ry="4.6" fill="none" stroke="#111" stroke-width="1.6" transform="rotate(-3 403.8 815)"/>
<g clip-path="url(#clipc2)">
<path d="M371.85 947.15C369.85 945.64 371.51 941.31 371.55 938.39C371.6 935.46 371.72 932.54 372.14 929.62C372.55 926.69 373.11 923.53 374.04 920.85C374.96 918.17 376.6 915.24 377.69 913.54C378.79 911.83 379.28 911.22 380.62 910.62C381.96 910.01 384.03 910.37 385.73 909.88C387.44 909.4 388.9 908.42 390.85 907.69C392.8 906.96 394.99 906.18 397.42 905.5C399.86 904.82 402.66 903.97 405.46 903.6C408.26 903.23 411.31 903.16 414.23 903.31C417.15 903.45 420.32 903.75 423 904.48C425.68 905.21 428.24 906.3 430.31 907.69C432.38 909.08 434.21 910.98 435.42 912.81C436.64 914.63 437.37 916.71 437.62 918.65C437.86 920.6 437.49 922.67 436.89 924.5C436.28 926.33 435.3 928.03 433.96 929.62C432.62 931.2 430.92 932.66 428.85 934C426.78 935.34 423.98 936.56 421.54 937.65C419.1 938.75 416.67 939.73 414.23 940.58C411.8 941.43 409.36 942.16 406.92 942.77C404.49 943.38 402.05 943.79 399.62 944.23C397.18 944.67 394.99 944.86 392.31 945.4C389.63 945.94 386.95 947.15 383.54 947.45C380.13 947.74 373.84 948.66 371.85 947.15Z" fill="none" stroke="#111" stroke-width="1.5" stroke-linejoin="round"/>
<path d="M374.04 947.15C372.38 945.69 373.53 941.31 373.6 938.39C373.67 935.46 373.99 932.42 374.48 929.62C374.96 926.81 375.62 924.01 376.52 921.58C377.42 919.14 378.72 916.53 379.88 915C381.05 913.47 382.2 912.98 383.54 912.37C384.88 911.76 386.34 911.83 387.92 911.35C389.51 910.86 391.21 910.1 393.04 909.45C394.87 908.79 396.69 908.06 398.89 907.4C401.08 906.74 403.64 905.89 406.19 905.5C408.75 905.11 411.55 904.94 414.23 905.06C416.91 905.18 419.83 905.5 422.27 906.23C424.71 906.96 427.02 908.11 428.85 909.45C430.67 910.79 432.21 912.61 433.23 914.27C434.25 915.93 434.79 917.68 434.99 919.38C435.18 921.09 434.99 922.84 434.4 924.5C433.82 926.16 432.77 927.86 431.48 929.32C430.19 930.79 428.55 932.05 426.65 933.27C424.75 934.49 422.39 935.58 420.08 936.63C417.76 937.68 415.21 938.73 412.77 939.55C410.33 940.38 407.9 941.02 405.46 941.6C403.03 942.19 400.59 942.62 398.15 943.06C395.72 943.5 393.28 943.55 390.85 944.23C388.41 944.91 386.34 946.67 383.54 947.15C380.74 947.64 375.7 948.62 374.04 947.15Z" fill="none" stroke="#111" stroke-width="1.5" stroke-linejoin="round"/>
<path d="M376.52 947.15C375.87 945.69 375.87 941.19 375.94 938.39C376.01 935.58 376.38 932.9 376.96 930.35C377.55 927.79 378.47 925.23 379.45 923.04C380.42 920.85 381.52 918.65 382.81 917.19C384.1 915.73 385.61 915.12 387.19 914.27C388.78 913.42 390.48 912.81 392.31 912.08C394.14 911.35 395.96 910.62 398.15 909.88C400.35 909.15 402.9 908.16 405.46 907.69C408.02 907.23 410.87 907.01 413.5 907.11C416.13 907.21 418.98 907.57 421.25 908.28C423.51 908.98 425.46 910.1 427.09 911.35C428.73 912.59 430.14 914.27 431.04 915.73C431.94 917.19 432.38 918.58 432.5 920.12C432.62 921.65 432.38 923.4 431.77 924.94C431.16 926.47 430.07 928.01 428.85 929.32C427.63 930.64 426.29 931.71 424.46 932.83C422.64 933.95 420.2 935.07 417.89 936.05C415.57 937.02 413.01 937.9 410.58 938.68C408.14 939.46 405.71 940.14 403.27 940.72C400.83 941.31 398.28 941.77 395.96 942.19C393.65 942.6 391.46 942.87 389.38 943.21C387.31 943.55 385.12 943.57 383.54 944.23C381.96 944.89 381.05 946.67 379.88 947.15C378.72 947.64 377.18 948.62 376.52 947.15Z" fill="none" stroke="#111" stroke-width="1.5" stroke-linejoin="round"/>
<path d="M380.62 939.85C380.13 938.39 380.03 934.97 380.32 932.54C380.62 930.1 381.47 927.42 382.37 925.23C383.27 923.04 384.44 920.9 385.73 919.38C387.02 917.87 388.53 917.1 390.12 916.17C391.7 915.24 393.4 914.56 395.23 913.83C397.06 913.1 399.01 912.44 401.08 911.78C403.15 911.13 405.51 910.27 407.65 909.88C409.8 909.5 411.82 909.32 413.94 909.45C416.06 909.57 418.42 909.93 420.37 910.62C422.32 911.3 424.22 912.37 425.63 913.54C427.04 914.71 428.12 916.29 428.85 917.63C429.58 918.97 429.97 920.19 430.02 921.58C430.07 922.97 429.77 924.57 429.14 925.96C428.51 927.35 427.43 928.76 426.22 929.91C425 931.05 423.59 931.91 421.83 932.83C420.08 933.76 417.89 934.61 415.69 935.46C413.5 936.31 410.99 937.22 408.68 937.95C406.36 938.68 404.17 939.29 401.81 939.85C399.45 940.41 396.81 940.97 394.5 941.31C392.19 941.65 389.8 941.89 387.92 941.89C386.05 941.89 384.46 941.65 383.25 941.31C382.03 940.97 381.1 941.31 380.62 939.85Z" fill="none" stroke="#111" stroke-width="1.5" stroke-linejoin="round"/>
<path d="M384.71 936.92C384.22 935.56 384.59 933.03 385 931.08C385.41 929.13 386.22 926.94 387.19 925.23C388.17 923.53 389.51 922.06 390.85 920.85C392.19 919.63 393.65 918.78 395.23 917.92C396.81 917.07 398.52 916.46 400.35 915.73C402.17 915 404.17 914.15 406.19 913.54C408.21 912.93 410.46 912.25 412.48 912.08C414.5 911.91 416.52 912.03 418.32 912.52C420.13 913 421.98 913.98 423.29 915C424.61 916.02 425.58 917.39 426.22 918.65C426.85 919.92 427.14 921.26 427.09 922.6C427.04 923.94 426.61 925.4 425.92 926.69C425.24 927.98 424.22 929.32 423 930.35C421.78 931.37 420.32 932.03 418.62 932.83C416.91 933.64 414.84 934.41 412.77 935.17C410.7 935.92 408.39 936.73 406.19 937.36C404 938 401.81 938.56 399.62 938.97C397.42 939.38 394.99 939.8 393.04 939.85C391.09 939.9 389.31 939.75 387.92 939.26C386.53 938.78 385.2 938.29 384.71 936.92Z" fill="none" stroke="#111" stroke-width="1.5" stroke-linejoin="round"/>
<path d="M389.68 934.29C389.36 933.15 389.63 930.88 390.12 929.32C390.6 927.76 391.55 926.23 392.6 924.94C393.65 923.65 394.99 922.5 396.4 921.58C397.81 920.65 399.45 920.12 401.08 919.38C402.71 918.65 404.44 917.87 406.19 917.19C407.95 916.51 409.82 915.66 411.6 915.29C413.38 914.93 415.25 914.68 416.86 915C418.47 915.32 420.1 916.27 421.25 917.19C422.39 918.12 423.24 919.41 423.73 920.55C424.22 921.7 424.34 922.92 424.17 924.06C424 925.21 423.51 926.35 422.71 927.42C421.9 928.5 420.76 929.59 419.35 930.49C417.93 931.39 416.06 932.12 414.23 932.83C412.4 933.54 410.33 934.15 408.39 934.73C406.44 935.32 404.49 935.97 402.54 936.34C400.59 936.7 398.45 936.95 396.69 936.92C394.94 936.9 393.19 936.63 392.02 936.19C390.85 935.75 389.99 935.44 389.68 934.29Z" fill="none" stroke="#111" stroke-width="1.5" stroke-linejoin="round"/>
<path d="M395.23 930.35C395.11 929.37 395.91 927.79 396.69 926.69C397.47 925.6 398.64 924.7 399.91 923.77C401.17 922.84 402.76 921.92 404.29 921.14C405.83 920.36 407.51 919.58 409.12 919.09C410.72 918.61 412.48 918.17 413.94 918.22C415.4 918.26 416.91 918.7 417.89 919.38C418.86 920.07 419.54 921.21 419.79 922.31C420.03 923.4 419.83 924.87 419.35 925.96C418.86 927.06 418.01 927.98 416.86 928.89C415.72 929.79 414.09 930.71 412.48 931.37C410.87 932.03 408.99 932.49 407.22 932.83C405.44 933.17 403.44 933.46 401.81 933.42C400.18 933.37 398.52 933.05 397.42 932.54C396.33 932.03 395.35 931.32 395.23 930.35Z" fill="none" stroke="#111" stroke-width="1.5" stroke-linejoin="round"/>
</g>
</svg>
</body></html>
